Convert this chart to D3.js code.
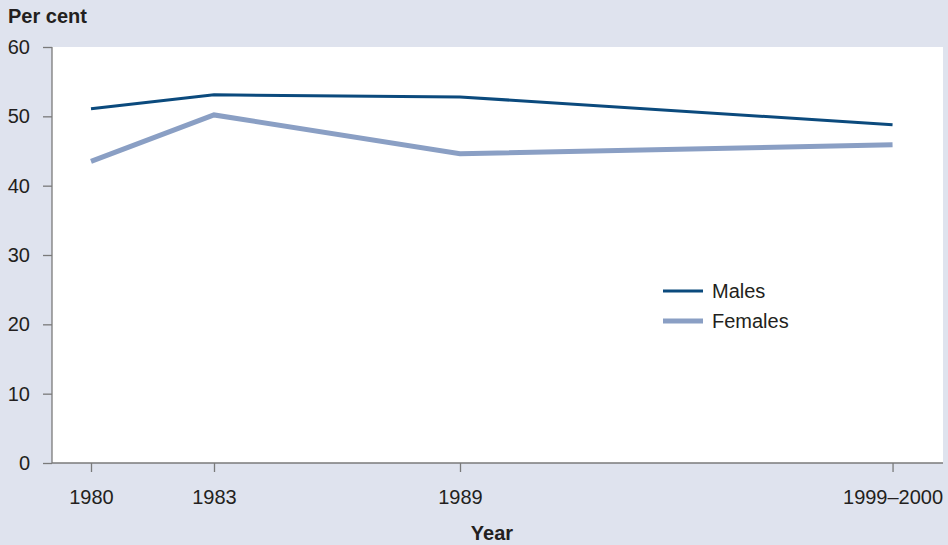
<!DOCTYPE html>
<html>
<head>
<meta charset="utf-8">
<script src="https://cdn.jsdelivr.net/npm/d3@7"></script>
<style>
  body { margin: 0; background: #dfe3ee; }
  svg { display: block; font-family: "Liberation Sans", Arial, sans-serif; }
</style>
</head>
<body>
<div id="chart"></div>
<script>
const years = [1980, 1983, 1989, 1999.55]
const yearLabels = ['1980', '1983', '1989', '1999\u20132000']
const males = [51.1, 53.1, 52.8, 48.8]
const females = [43.5, 50.2, 44.6, 45.9]
const yTicks = [0, 10, 20, 30, 40, 50, 60]

const width = 948, height = 545
const margin = { top: 47, right: 5, bottom: 82, left: 52 }
const innerW = width - margin.left - margin.right
const innerH = height - margin.top - margin.bottom
const font = '"Liberation Sans", Arial, sans-serif'

let svg = d3.select('#chart').append('svg')
    .attr('width', width)
    .attr('height', height)

svg.append('rect')
    .attr('width', width).attr('height', height)
    .attr('fill', '#dfe3ee')

let canvas = svg.append('g')
    .attr('transform', 'translate(' + margin.left + ',' + margin.top + ')')

canvas.append('rect')
    .attr('width', innerW).attr('height', innerH)
    .attr('fill', '#fff')

// 1980 sits ~39px right of the y axis, 41px per year
let x = d3.scaleLinear()
    .domain([1980 - 39 / 41, 1980 + (innerW - 39) / 41])
    .range([0, innerW])
let y = d3.scaleLinear().domain([0, 60]).range([innerH, 0])

// y axis
let yAxis = canvas.append('g')
    .call(d3.axisLeft(y).tickValues(yTicks).tickSize(9).tickPadding(13))
yAxis.select('.domain').attr('stroke', '#7a7a7a').attr('stroke-width', 1.3)
    .attr('d', 'M0,' + innerH + 'V0')
yAxis.selectAll('.tick line').attr('stroke', '#7a7a7a').attr('stroke-width', 1.3)
yAxis.selectAll('.tick text')
    .attr('font-size', 20).attr('fill', '#231f20')
    .style('font-family', font)

// x axis
let xAxis = canvas.append('g')
    .attr('transform', 'translate(0,' + innerH + ')')
    .call(d3.axisBottom(x).tickValues(years).tickFormat((d, i) => yearLabels[i]).tickSize(9).tickPadding(18))
xAxis.select('.domain').attr('stroke', '#7a7a7a').attr('stroke-width', 1.3)
    .attr('d', 'M0,0H' + innerW)
xAxis.selectAll('.tick line').attr('stroke', '#7a7a7a').attr('stroke-width', 1.3)
xAxis.selectAll('.tick text')
    .attr('font-size', 20).attr('fill', '#231f20')
    .style('font-family', font)

let line = d3.line()
    .x((d, i) => x(years[i]))
    .y(d => y(d))

canvas.append('path')
    .datum(females)
    .attr('d', line)
    .attr('fill', 'none')
    .attr('stroke', '#8a9fc4')
    .attr('stroke-width', 5)

canvas.append('path')
    .datum(males)
    .attr('d', line)
    .attr('fill', 'none')
    .attr('stroke', '#0b4a7d')
    .attr('stroke-width', 3)

// legend
const legend = [
  { name: 'Males', color: '#0b4a7d', w: 3 },
  { name: 'Females', color: '#8a9fc4', w: 5 }
]
let lg = svg.append('g').attr('transform', 'translate(663,291)')
legend.forEach((l, i) => {
  lg.append('line')
      .attr('x1', 0).attr('x2', 40)
      .attr('y1', i * 30).attr('y2', i * 30)
      .attr('stroke', l.color).attr('stroke-width', l.w)
  lg.append('text')
      .attr('x', 49).attr('y', i * 30 + 7)
      .attr('font-size', 20).attr('fill', '#231f20')
      .text(l.name)
})

// titles
svg.append('text')
    .attr('x', 8).attr('y', 23)
    .attr('font-size', 20).attr('font-weight', 'bold').attr('fill', '#231f20')
    .text('Per cent')

svg.append('text')
    .attr('x', 492).attr('y', 540)
    .attr('text-anchor', 'middle')
    .attr('font-size', 20).attr('font-weight', 'bold').attr('fill', '#231f20')
    .text('Year')
</script>
</body>
</html>
